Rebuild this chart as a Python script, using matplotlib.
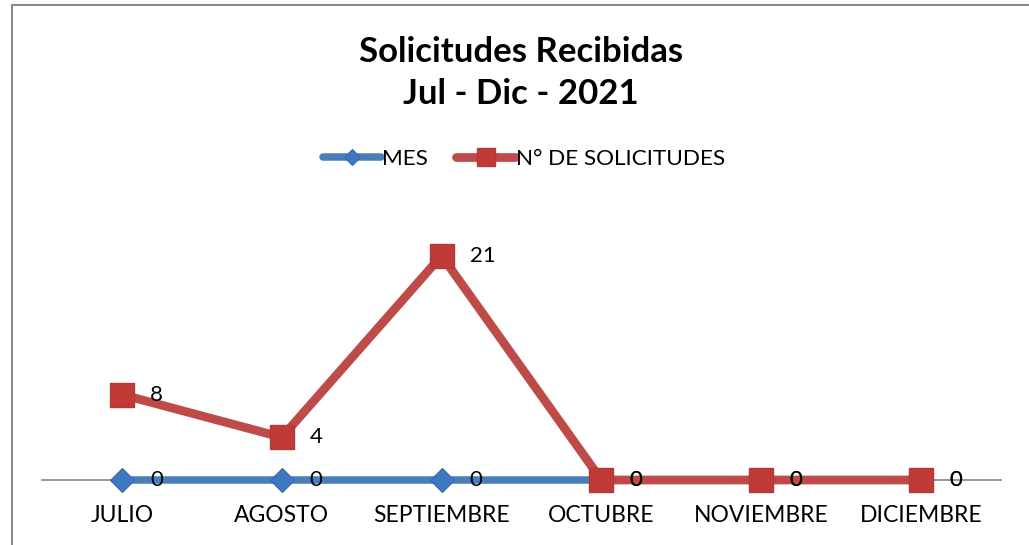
import matplotlib
matplotlib.use("Agg")
import matplotlib.pyplot as plt
from matplotlib.lines import Line2D
from matplotlib.transforms import offset_copy

months = ["JULIO", "AGOSTO", "SEPTIEMBRE", "OCTUBRE", "NOVIEMBRE", "DICIEMBRE"]
mes_values = [0, 0, 0, 0, 0, 0]
solicitudes_values = [8, 4, 21, 0, 0, 0]
title_text = "Solicitudes Recibidas\nJul - Dic - 2021"
series_names = ["MES", "N° DE SOLICITUDES"]

plt.rcParams['font.family'] = ['Lato', 'DejaVu Sans']

W, H = 1029, 545
fig = plt.figure(figsize=(W / 100, H / 100), dpi=100)
fig.patch.set_facecolor("white")

ax = fig.add_axes([42 / W, (H - 480) / H, (1001 - 42) / W, (480 - 213) / H])
x = list(range(len(months)))

blue_line = "#4A7EBB"
blue_mark = "#3D78C2"
red_line = "#BE4B48"
red_mark = "#C23A36"

ax.plot(x, mes_values, color=blue_line, lw=5.4, solid_capstyle="round",
        marker="D", markersize=12, markerfacecolor=blue_mark,
        markeredgecolor="#3868A8", markeredgewidth=0.8, clip_on=False,
        zorder=3, label=series_names[0])
ax.plot(x, solicitudes_values, color=red_line, lw=6.3, solid_capstyle="round",
        marker="s", markersize=17.5, markerfacecolor=red_mark,
        markeredgecolor="#B03A37", markeredgewidth=1.0, clip_on=False,
        zorder=4, label=series_names[1])

for series in (mes_values, solicitudes_values):
    for xi, v in zip(x, series):
        t = offset_copy(ax.transData, fig=fig, x=28, y=0, units="dots")
        ax.text(xi, v, str(v), transform=t, ha="left", va="center",
                fontsize=16, color="black", zorder=6)

ax.set_xlim(-0.5, len(months) - 0.5)
ax.set_ylim(0, 25)
ax.set_xticks(x)
ax.set_xticklabels(months, fontsize=16.5)
ax.tick_params(axis="x", length=0, pad=18)
ax.set_yticks([])
for s in ("top", "right", "left"):
    ax.spines[s].set_visible(False)
ax.spines["bottom"].set_color("#868686")
ax.spines["bottom"].set_linewidth(1.2)
ax.spines["bottom"].set_zorder(1)
ax.set_facecolor("none")

fig.text(521 / W, 1 - 73 / H, title_text, ha="center", va="center",
         fontsize=25, fontweight="bold", linespacing=1.42)

leg = fig.legend(loc="center", bbox_to_anchor=(524 / W, 1 - 159 / H), ncol=2,
                 frameon=False, fontsize=16.2, handlelength=2.6,
                 handletextpad=0.05, columnspacing=1.25, markerscale=0.72)

# chart border (left and top visible)
fig.add_artist(Line2D([12 / W, 12 / W], [0, 1 - 16 / H / 3], transform=fig.transFigure,
                      color="#8A8A8A", lw=1.5))
fig.add_artist(Line2D([12 / W, 1], [1 - 16 / H / 3, 1 - 16 / H / 3], transform=fig.transFigure,
                      color="#8A8A8A", lw=1.5))

fig.savefig("out.png", dpi=100, facecolor="white")
